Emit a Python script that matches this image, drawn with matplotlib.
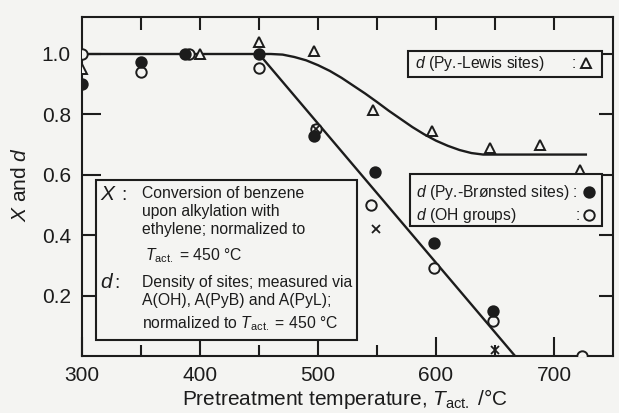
import matplotlib.pyplot as plt
from matplotlib.patches import Rectangle
from matplotlib.lines import Line2D

plt.rcParams['font.family'] = 'Liberation Sans'
plt.rcParams['mathtext.fontset'] = 'custom'
plt.rcParams['mathtext.rm'] = 'Liberation Sans'
plt.rcParams['mathtext.it'] = 'Liberation Sans:italic'

PAPER = '#f4f4f2'
INK = '#1c1c1c'

# density of Lewis sites (pyridine), triangles
t_lewis = [300, 400, 450, 497, 547, 597, 646, 688, 722]
d_lewis = [0.95, 1.0, 1.04, 1.01, 0.815, 0.745, 0.69, 0.70, 0.615]

# density of Bronsted sites (pyridine), filled circles
t_bronsted = [300, 350, 387, 450, 497, 548, 598, 648]
d_bronsted = [0.90, 0.975, 1.0, 1.0, 0.73, 0.61, 0.375, 0.15]

# density of OH groups, open circles
t_oh = [300, 350, 391, 450, 498, 545, 598, 648, 724]
d_oh = [1.0, 0.94, 1.0, 0.955, 0.752, 0.50, 0.293, 0.115, 0.0]

# conversion of benzene, crosses
t_conv = [498, 549, 650]
x_conv = [0.752, 0.421, 0.02]

# trend through the Lewis points
t_lewis_fit = [300, 460, 470, 480, 490, 500, 510, 520, 530, 540, 550, 560,
               570, 580, 590, 600, 610, 620, 630, 640, 727]
d_lewis_fit = [1.0, 1.0, 0.998, 0.990, 0.979, 0.963, 0.944, 0.921, 0.895,
               0.869, 0.841, 0.812, 0.785, 0.758, 0.734, 0.713, 0.696,
               0.682, 0.672, 0.667, 0.667]

# straight trend through the Bronsted / OH points
t_bronsted_fit = [450, 667]
d_bronsted_fit = [1.0, 0.0]

x_ticks = [300, 400, 500, 600, 700]
y_ticks = [0.2, 0.4, 0.6, 0.8, 1.0]

W, H = 619, 413


def px(x, y):
    return x / W, 1 - y / H


fig = plt.figure(figsize=(W / 100, H / 100), dpi=100, facecolor=PAPER)
ax = fig.add_axes([82 / W, 1 - 356 / H, (613 - 82) / W, (356 - 17) / H])
ax.set_facecolor(PAPER)
ax.set_xlim(300, 750)
ax.set_ylim(0, 1.1225)

ax.plot(t_lewis_fit, d_lewis_fit, color=INK, lw=1.7, zorder=2,
        solid_joinstyle='round')
ax.plot(t_bronsted_fit, d_bronsted_fit, color=INK, lw=1.7, zorder=2)

mk = dict(linestyle='none', markersize=7.5, markeredgewidth=1.4, zorder=3)
ax.plot(t_lewis, d_lewis, marker='^', mfc=PAPER, mec=INK, **mk)
ax.plot(t_oh, d_oh, marker='o', mfc=PAPER, mec=INK, **mk)
ax.plot(t_bronsted, d_bronsted, marker='o', mfc=INK, mec=INK, **mk)
ax.plot(t_conv, x_conv, marker='x', mec=INK, linestyle='none',
        markersize=6, markeredgewidth=1.3, zorder=4)

for s in ax.spines.values():
    s.set_linewidth(1.5)
    s.set_color(INK)

ax.set_xticks(x_ticks)
ax.set_xticks([350, 450, 550, 650], minor=True)
ax.set_yticks(y_ticks)
ax.set_yticklabels([f'{v:.1f}' for v in y_ticks])
ax.tick_params(which='major', direction='in', length=14, width=1.5,
               colors=INK, labelsize=15, pad=7)
ax.tick_params(which='minor', direction='in', length=8, width=1.5,
               colors=INK)
ax.tick_params(axis='y', pad=8)

top = ax.secondary_xaxis('top')
top.set_xticks(list(range(350, 701, 50)))
top.set_xticklabels([])
top.tick_params(direction='in', length=9, width=1.5, colors=INK)
top.spines['top'].set_visible(False)

right = ax.secondary_yaxis('right')
right.set_yticks(y_ticks)
right.set_yticklabels([])
right.tick_params(direction='in', length=10, width=1.5, colors=INK)
right.spines['right'].set_visible(False)

# axis titles
fig.text(*px(345, 405), r'Pretreatment temperature, $T_{\rm act.}$ /°C',
         ha='center', va='baseline', fontsize=15, color=INK)
fig.text(*px(20, 185), r'$X$ and $d$', rotation=90, ha='center',
         va='center', fontsize=15, color=INK)


def box(x0, y0, x1, y1):
    fig.add_artist(Rectangle(px(x0, y1), (x1 - x0) / W, (y1 - y0) / H,
                             transform=fig.transFigure, facecolor=PAPER,
                             edgecolor=INK, lw=1.5, zorder=5))


def label(x, y, s, size=11.3, **kw):
    fig.text(*px(x, y), s, ha='left', va='baseline', fontsize=size,
             color=INK, zorder=6, **kw)


def key(x, y, marker, fill):
    fig.add_artist(Line2D([x / W], [1 - y / H], marker=marker,
                          markersize=7.5, mfc=fill, mec=INK,
                          markeredgewidth=1.4, transform=fig.transFigure,
                          zorder=6))


# Lewis key
box(408, 51, 602, 77)
label(415, 68, r'$d$ (Py.-Lewis sites)')
label(572, 68, ':')
key(586, 63, '^', PAPER)

# Bronsted / OH key
box(410, 174, 602, 226)
label(416, 197, r'$d$ (Py.-Brønsted sites) :')
key(589, 192, 'o', INK)
label(416, 220, r'$d$ (OH groups)')
label(576, 220, ':')
key(589, 215, 'o', PAPER)

# description of X and d
box(96, 180, 357, 340)
label(100, 200, r'$X$', size=15)
label(121, 200, ':', size=14)
label(142, 198, 'Conversion of benzene')
label(142, 216, 'upon alkylation with')
label(142, 234, 'ethylene; normalized to')
label(145, 260, r'$T_{\rm act.}$ = 450 °C')
label(100, 288, r'$d$', size=15)
label(114, 288, ':', size=14)
label(142, 287, 'Density of sites; measured via')
label(142, 305, 'A(OH), A(PyB) and A(PyL);')
label(142, 328, r'normalized to $T_{\rm act.}$ = 450 °C')

fig.savefig('out.png', dpi=100, facecolor=PAPER)
